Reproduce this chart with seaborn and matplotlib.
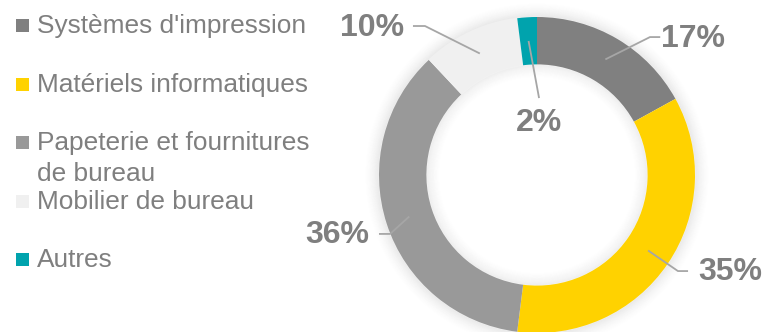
import numpy as np
import matplotlib
matplotlib.use("Agg")
import matplotlib.pyplot as plt
from matplotlib.patches import Rectangle, Circle
import seaborn as sns

sns.set_theme(style="white")
plt.rcParams['font.family'] = ['Liberation Sans', 'DejaVu Sans']

# ---- data ----
categories = ["Systèmes d'impression", "Matériels informatiques",
              "Papeterie et fournitures\nde bureau", "Mobilier de bureau", "Autres"]
values = [17, 35, 36, 10, 2]
colors = ["#808080", "#FFD200", "#999999", "#F0F0F0", "#00A3AD"]

TXT = "#7F7F7F"
W, H = 766, 332
fig = plt.figure(figsize=(W / 100, H / 100), dpi=100)
fig.patch.set_facecolor("white")

# donut axes: center (537,175) px from top, radius 158 px
cx, cy, R = 537, 175, 158
ax = fig.add_axes([(cx - R) / W, (H - cy - R) / H, 2 * R / W, 2 * R / H])

# soft shadow
n = 16
for i in range(n):
    a = 0.030 * ((n - i) / n) ** 1.5
    ax.add_patch(Circle((0, 0), 1.0 + 0.006 * i, facecolor="none",
                        edgecolor="black", linewidth=2.0, alpha=a,
                        clip_on=False, zorder=0))
    ax.add_patch(Circle((0, 0), 0.70 - 0.006 * i, facecolor="none",
                        edgecolor="black", linewidth=2.0, alpha=a * 0.8,
                        clip_on=False, zorder=0))

wedges, _ = ax.pie(values, colors=colors, startangle=90, counterclock=False,
                   radius=1.0, wedgeprops=dict(width=0.30, linewidth=0))
for w in wedges:
    w.set_clip_on(False)
    w.set_zorder(1)
ax.set_xlim(-1, 1)
ax.set_ylim(-1, 1)
ax.set_aspect("equal")
ax.axis("off")

# label layout (data coords): elbow point, end point, text position
elbows = [(0.715, 0.873), (0.892, -0.608), (-0.930, -0.373), (-0.709, 0.943), None]
ends = [(0.78, 0.873), (0.956, -0.608), (-1.0, -0.373), (-0.785, 0.943), (0.013, 0.487)]
textpos = [(0.985, 0.862), (1.225, -0.614), (-1.262, -0.380), (-1.047, 0.930), (0.013, 0.330)]

for w, v, el, en, tp in zip(wedges, values, elbows, ends, textpos):
    ang = np.deg2rad((w.theta1 + w.theta2) / 2)
    sx, sy = 0.85 * np.cos(ang), 0.85 * np.sin(ang)
    pts = [(sx, sy)] + ([el] if el else []) + [en]
    xs, ys = zip(*pts)
    ax.plot(xs, ys, color="#A6A6A6", lw=1.3, clip_on=False, zorder=3,
            solid_capstyle="butt")
    ax.text(tp[0], tp[1], f"{v}%", ha="center", va="center", fontsize=23,
            fontweight="bold", color=TXT, zorder=4, clip_on=False)

# legend (manual)
baselines = [33, 92, 150, 209, 267]
for lab, col, b in zip(categories, colors, baselines):
    fig.patches.append(Rectangle((16 / W, (H - b + 1) / H), 13 / W, 13 / H,
                                 transform=fig.transFigure, facecolor=col,
                                 edgecolor="none"))
    for j, line in enumerate(lab.split("\n")):
        fig.text(37 / W, (H - b - 31 * j) / H, line, ha="left", va="baseline",
                 fontsize=18.9, color=TXT)

fig.savefig("out.png", dpi=100, facecolor="white")
